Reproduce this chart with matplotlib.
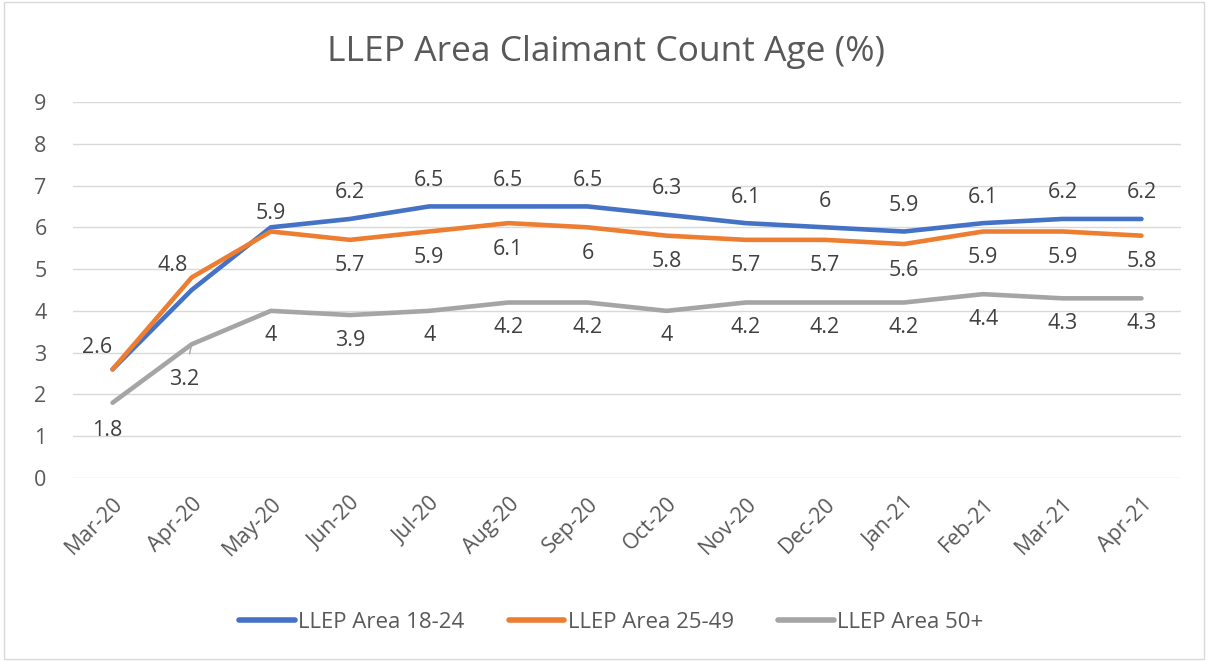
import matplotlib.pyplot as plt
from matplotlib.patches import Rectangle
from matplotlib.transforms import ScaledTranslation

plt.rcParams['font.family'] = ['Open Sans', 'DejaVu Sans']

months = ['Mar-20', 'Apr-20', 'May-20', 'Jun-20', 'Jul-20', 'Aug-20', 'Sep-20',
          'Oct-20', 'Nov-20', 'Dec-20', 'Jan-21', 'Feb-21', 'Mar-21', 'Apr-21']
age_18_24 = [2.6, 4.5, 6.0, 6.2, 6.5, 6.5, 6.5, 6.3, 6.1, 6.0, 5.9, 6.1, 6.2, 6.2]
age_25_49 = [2.6, 4.8, 5.9, 5.7, 5.9, 6.1, 6.0, 5.8, 5.7, 5.7, 5.6, 5.9, 5.9, 5.8]
age_50 = [1.8, 3.2, 4.0, 3.9, 4.0, 4.2, 4.2, 4.0, 4.2, 4.2, 4.2, 4.4, 4.3, 4.3]

txt = '#595959'
fs = 15.5
fig = plt.figure(figsize=(12.08, 6.61), dpi=100)
ax = fig.add_axes([0.0604, 0.2769, 0.9173, 0.5688])
fig.add_artist(Rectangle((0.003, 0.003), 0.994, 0.994, transform=fig.transFigure,
                         fill=False, edgecolor='#d9d9d9', linewidth=1))

x = list(range(len(months)))
series = [
    ('LLEP Area 18-24', age_18_24, '#4472C4'),
    ('LLEP Area 25-49', age_25_49, '#ED7D31'),
    ('LLEP Area 50+', age_50, '#A5A5A5'),
]
for name, vals, col in series:
    ax.plot(x, vals, color=col, linewidth=3.3, solid_capstyle='round', label=name)

def lab(i, v, dx, dy):
    ax.annotate('%g' % v, (i, v), xytext=(dx, dy), textcoords='offset pixels',
                ha='center', va='center', fontsize=fs, color='#404040')

# blue labels above (first three hidden in original)
for i in range(3, len(x)):
    lab(i, age_18_24[i], 0, 26)
# orange labels below
lab(0, age_25_49[0], -15, 22)
lab(1, age_25_49[1], -19, 12)
lab(2, age_25_49[2], 0, 18)
for i in range(3, len(x)):
    lab(i, age_25_49[i], 0, -26)
# gray labels below
lab(0, age_50[0], -5, -28)
ax.annotate('3.2', (1, age_50[1]), xytext=(-8, -35), textcoords='offset pixels',
            ha='center', va='center', fontsize=fs, color='#404040',
            arrowprops=dict(arrowstyle='-', color='#A5A5A5', lw=1,
                            shrinkA=9, shrinkB=2))
for i in range(2, len(x)):
    lab(i, age_50[i], 0, -25)

ax.set_xlim(-0.5, len(x) - 0.5)
ax.set_ylim(0, 9)
ax.set_yticks(range(0, 10))
ax.set_xticks(x)
ax.set_xticklabels(months, rotation=45, ha='right', va='top', rotation_mode='anchor')
shift = ScaledTranslation(-11 / 100, 0, fig.dpi_scale_trans)
for t in ax.get_xticklabels():
    t.set_transform(t.get_transform() + shift)
ax.tick_params(axis='x', length=0, pad=11, labelsize=fs, labelcolor=txt)
ax.tick_params(axis='y', length=0, pad=19, labelsize=fs, labelcolor=txt)
ax.grid(axis='y', color='#d9d9d9', linewidth=1)
ax.set_axisbelow(True)
for sp in ax.spines.values():
    sp.set_visible(False)

fig.text(0.502, 0.922, 'LLEP Area Claimant Count Age (%)', ha='center', va='center',
         fontsize=25.5, color=txt)
leg = fig.legend(loc='center', bbox_to_anchor=(0.506, 0.059), ncol=3, frameon=False,
                 fontsize=16, labelcolor=txt, handlelength=2.5, handletextpad=0.15,
                 columnspacing=2.0)
for h in leg.get_lines():
    h.set_linewidth(4)

fig.savefig('out.png', dpi=100)
